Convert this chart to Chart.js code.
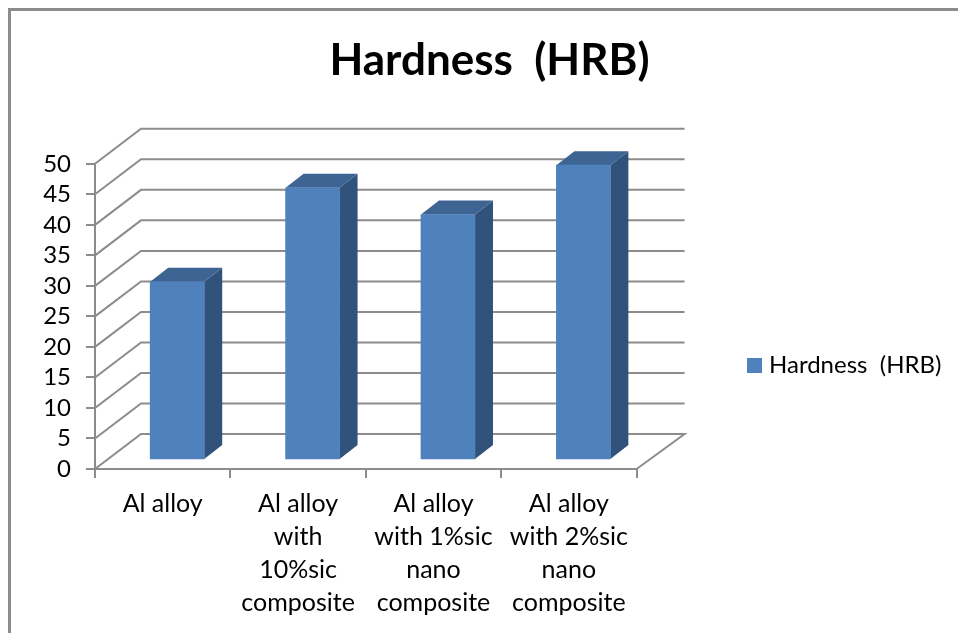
<!DOCTYPE html>
<html>
<head>
<meta charset="utf-8">
<title>Hardness (HRB)</title>
<script src="https://cdn.jsdelivr.net/npm/chart.js@4/dist/chart.umd.min.js"></script>
<style>
    html, body { margin: 0; padding: 0; background: #fff; overflow: hidden; }
    #wrap { position: relative; width: 958px; height: 633px; }
    #frame { position: absolute; left: 8px; top: 8px; right: -5px; bottom: -5px; border: 3px solid #8c8c8c; }
    canvas { position: absolute; left: 0; top: 0; }
</style>
</head>
<body>
<div id="wrap">
    <div id="frame"></div>
    <canvas id="chart" width="958" height="633"></canvas>
</div>
<script>
const chartTitle = 'Hardness  (HRB)';
const categories = [
    ['Al alloy'],
    ['Al alloy', 'with', '10%sic', 'composite'],
    ['Al alloy', 'with 1%sic', 'nano', 'composite'],
    ['Al alloy', 'with 2%sic', 'nano', 'composite']
];
const hardness = [29.2, 44.6, 40.2, 48.3];
const yTicks = [0, 5, 10, 15, 20, 25, 30, 35, 40, 45, 50];

const FONT = 'Lato, "Open Sans", sans-serif';
const GRID = '#8c8c8c';
const BAR = '#4F81BD';

// fake 3D: walls behind the bars, bars pushed back a bit, side and top faces added
const wallDepth = { x: 46, y: 35 };
const barShift = { x: 14.5, y: -9 };
const barDepth = { x: 18, y: 14 };

// legend swatch as an image, so the text can sit closer to it than chart.js normally puts it
const swatch = document.createElement('canvas');
swatch.width = 15;
swatch.height = 15;
const swatchCtx = swatch.getContext('2d');
swatchCtx.fillStyle = BAR;
swatchCtx.fillRect(0, 0, 15, 15);

function face(ctx, pts, color) {
    ctx.fillStyle = color;
    ctx.beginPath();
    pts.forEach((p, i) => i ? ctx.lineTo(p[0], p[1]) : ctx.moveTo(p[0], p[1]));
    ctx.closePath();
    ctx.fill();
}

const fake3d = {
    id: 'fake3d',
    afterLayout(chart) {
        // legend and title sit apart from where the layout boxes put them
        const lg = chart.legend;
        const w = lg.right - lg.left;
        lg.left = 747;
        lg.right = 747 + w;
        lg.top += 49;
        lg.bottom += 49;
        lg.adjustHitBoxes();
        chart.titleBlock.left += 69;
        chart.titleBlock.right += 69;
    },
    beforeDatasetsDraw(chart) {
        const { ctx, chartArea, scales } = chart;
        ctx.save();
        ctx.strokeStyle = GRID;
        ctx.lineWidth = 2;
        yTicks.forEach(v => {
            const y = scales.y.getPixelForValue(v);
            ctx.beginPath();
            ctx.moveTo(chartArea.left, y);
            ctx.lineTo(chartArea.left + wallDepth.x, y - wallDepth.y);
            ctx.lineTo(chartArea.right + wallDepth.x + 2, y - wallDepth.y);
            if (v === 0) ctx.lineTo(chartArea.right, y);
            ctx.stroke();
        });
        ctx.restore();

        ctx.save();
        ctx.translate(barShift.x, barShift.y);
        chart.getDatasetMeta(0).data.forEach(bar => {
            const { x, y, base, width } = bar.getProps(['x', 'y', 'base', 'width']);
            const l = x - width / 2, r = x + width / 2;
            face(ctx, [[r, y], [r + barDepth.x, y - barDepth.y], [r + barDepth.x, base - barDepth.y], [r, base]], '#31527A');
            face(ctx, [[l, y], [l + barDepth.x, y - barDepth.y], [r + barDepth.x, y - barDepth.y], [r, y]], '#3E6493');
        });
    },
    afterDatasetsDraw(chart) {
        chart.ctx.restore();
    }
};

new Chart(document.getElementById('chart'), {
    type: 'bar',
    data: {
        labels: categories,
        datasets: [{
            label: chartTitle,
            data: hardness,
            backgroundColor: BAR,
            barThickness: 54,
            clip: false
        }]
    },
    options: {
        responsive: false,
        animation: false,
        layout: { padding: { left: 0, top: 0, right: 117, bottom: 0 } },
        plugins: {
            tooltip: { enabled: false },
            title: {
                display: true,
                text: chartTitle,
                color: '#000',
                font: { family: FONT, size: 44, weight: 'bold', lineHeight: 1.2 },
                padding: { top: 34, bottom: 77 }
            },
            legend: {
                position: 'right',
                labels: {
                    color: '#000',
                    font: { family: FONT, size: 24 },
                    usePointStyle: true,
                    pointStyle: swatch,
                    boxWidth: 5,
                    boxHeight: 15,
                    padding: 5
                }
            }
        },
        scales: {
            x: {
                afterFit(s) { s.height = 164; },
                grid: { drawOnChartArea: false, color: GRID, lineWidth: 2, tickLength: 9 },
                border: { color: GRID, width: 2 },
                ticks: {
                    color: '#000',
                    maxRotation: 0,
                    font: { family: FONT, size: 25, lineHeight: 1.32 },
                    padding: 9
                }
            },
            y: {
                min: 0,
                max: 50,
                afterFit(s) { s.width = 95; },
                afterBuildTicks(s) { s.ticks = yTicks.map(value => ({ value })); },
                grid: { drawOnChartArea: false, color: GRID, lineWidth: 2, tickLength: 9 },
                border: { color: GRID, width: 2 },
                ticks: {
                    color: '#000',
                    autoSkip: false,
                    font: { family: FONT, size: 24 },
                    padding: 15
                }
            }
        }
    },
    plugins: [fake3d]
});
</script>
</body>
</html>
